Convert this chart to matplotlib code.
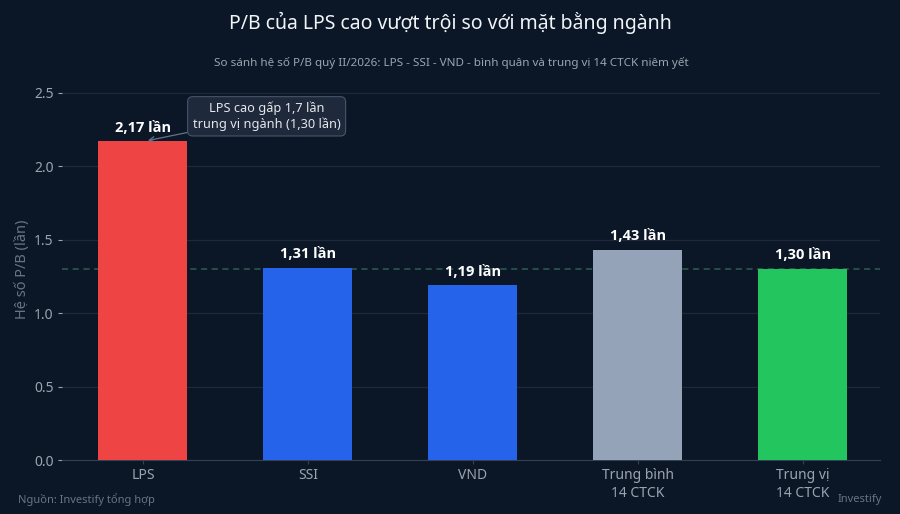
import matplotlib.pyplot as plt

plt.rcParams['font.family'] = ['Noto Sans', 'DejaVu Sans']

categories = ["LPS", "SSI", "VND", "Trung bình\n14 CTCK", "Trung vị\n14 CTCK"]
pb_values = [2.17, 1.31, 1.19, 1.43, 1.30]
value_labels = ["2,17 lần", "1,31 lần", "1,19 lần", "1,43 lần", "1,30 lần"]
median_pb = 1.30
yticks = [0.0, 0.5, 1.0, 1.5, 2.0, 2.5]

bg = "#0b1727"
bar_colors = ["#ef4444", "#2563eb", "#2563eb", "#94a3b8", "#22c55e"]
muted = "#9ca3af"

fig = plt.figure(figsize=(9, 5.14), dpi=100)
fig.patch.set_facecolor(bg)
ax = fig.add_axes([0.069, 0.105, 0.909, 0.743])
ax.set_facecolor(bg)

x = list(range(len(categories)))
ax.bar(x, pb_values, width=0.54, color=bar_colors, zorder=3)
ax.axhline(median_pb, color="#2f5e4c", linestyle=(0, (4, 3)), linewidth=1.1, zorder=2)

for xi, v, lab in zip(x, pb_values, value_labels):
    ax.text(xi, v + 0.045, lab, ha="center", va="bottom", color="white",
            fontsize=10.5, fontweight="bold", family=["Open Sans", "DejaVu Sans"],
            zorder=4)

ax.annotate("LPS cao gấp 1,7 lần\ntrung vị ngành (1,30 lần)",
            xy=(0.03, 2.175), xytext=(0.75, 2.34),
            ha="center", va="center", color="#e5e7eb", fontsize=9.2,
            bbox=dict(boxstyle="round,pad=0.4,rounding_size=0.4",
                      fc="#1e293b", ec="#475569", lw=0.8),
            arrowprops=dict(arrowstyle="->", color="#64748b", lw=0.9,
                            shrinkA=0, shrinkB=0),
            zorder=5)

ax.set_xlim(-0.49, 4.47)
ax.set_ylim(0, 2.6)
ax.set_yticks(yticks)
ax.set_xticks(x)
ax.set_xticklabels(categories)
ax.tick_params(axis="both", colors=muted, labelsize=10, length=3)
ax.tick_params(axis="x", color="#334155", pad=3)
ax.tick_params(axis="y", color=muted, pad=3)
ax.yaxis.grid(True, color="#1e2a3b", linewidth=0.9, zorder=0)
ax.set_axisbelow(True)
for s in ["top", "right", "left"]:
    ax.spines[s].set_visible(False)
ax.spines["bottom"].set_color("#334155")
ax.set_ylabel("Hệ số P/B (lần)", color="#6b7280", fontsize=10.5, labelpad=3)

fig.text(0.5, 0.955, "P/B của LPS cao vượt trội so với mặt bằng ngành",
         ha="center", va="center", color="#f1f5f9", fontsize=14)
fig.text(0.502, 0.878,
         "So sánh hệ số P/B quý II/2026: LPS - SSI - VND - bình quân và trung vị 14 CTCK niêm yết",
         ha="center", va="center", color=muted, fontsize=8.4)
fig.text(0.02, 0.028, "Nguồn: Investify tổng hợp", ha="left", va="center",
         color="#6b7280", fontsize=8)
fig.text(0.98, 0.028, "Investify", ha="right", va="center",
         color="#6b7280", fontsize=8)

fig.savefig("out.png", dpi=100, facecolor=bg)
